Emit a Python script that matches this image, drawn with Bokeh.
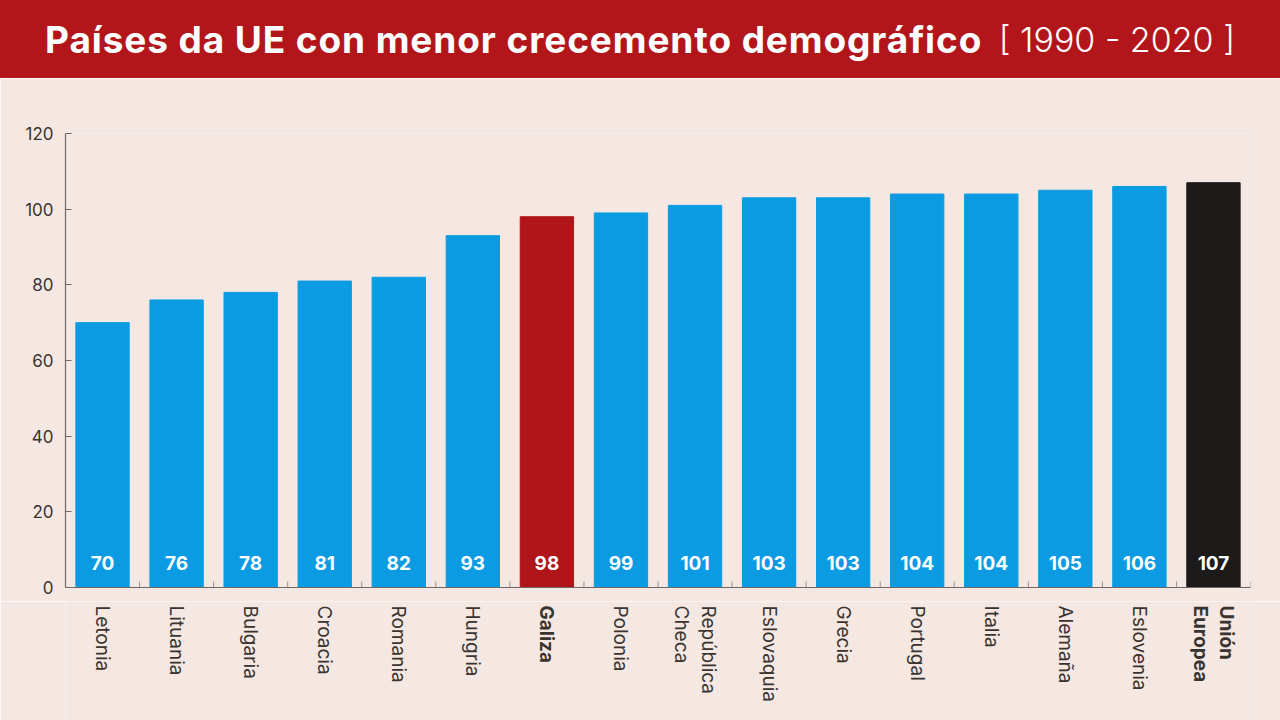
import math
from bokeh.plotting import figure
from bokeh.models import ColumnDataSource, LabelSet, Range1d, FixedTicker, FactorRange, Div
from bokeh.transform import dodge
from bokeh.layouts import column
from bokeh.embed import file_html
from bokeh.resources import INLINE
from bokeh.core.properties import value

# ---- data ----
countries = ["Letonia", "Lituania", "Bulgaria", "Croacia", "Romania", "Hungria", "Galiza",
             "Polonia", "República\nCheca", "Eslovaquia", "Grecia", "Portugal", "Italia",
             "Alemaña", "Eslovenia", "Unión\nEuropea"]
values = [70, 76, 78, 81, 82, 93, 98, 99, 101, 103, 103, 104, 104, 105, 106, 107]
bold_labels = ["Galiza", "Unión\nEuropea"]
y_ticks = [0, 20, 40, 60, 80, 100, 120]
title_main = "Países da UE con menor crecemento demográfico"
title_years = "[ 1990 - 2020 ]"

# ---- styles ----
BG = "#f5e8e2"
BANNER = "#b2161a"
BLUE = "#0a9be2"
RED = "#b0151a"
BLACK = "#1d1b1a"
TXT = "#3a3431"
AXIS = "#6f6763"
FONT = "Inter"

colors = []
for c in countries:
    if c == "Galiza":
        colors.append(RED)
    elif c.startswith("Unión"):
        colors.append(BLACK)
    else:
        colors.append(BLUE)

W = 1280
HEADER_H = 78
MAIN_H = 55 + 454 + 14
LABEL_H = 720 - HEADER_H - MAIN_H

# ---- header ----
header_html = (
    f'<div style="position:relative;width:{W}px;height:{HEADER_H}px;background:{BANNER};'
    f'color:white;font-family:{FONT};margin:0;">'
    f'<span style="position:absolute;left:45px;top:20px;font-size:37px;font-weight:700;'
    f'letter-spacing:0.9px;line-height:40px;white-space:nowrap;">{title_main}</span>'
    f'<span style="position:absolute;right:45px;top:20px;font-size:34px;font-weight:300;'
    f'line-height:40px;white-space:nowrap;">{title_years}</span></div>'
)
hdr = Div(text=header_html, width=W, height=HEADER_H, margin=0)

# ---- main chart ----
src = ColumnDataSource(dict(cat=countries, val=values, color=colors,
                            lbl=[str(v) for v in values], zero=[0] * len(values)))

p = figure(width=W, height=MAIN_H, x_range=FactorRange(factors=countries, range_padding=0),
           y_range=Range1d(0, 120), toolbar_location=None, output_backend="svg",
           background_fill_color=BG, border_fill_color=BG, outline_line_color=None,
           min_border_left=65, min_border_right=30, min_border_top=55, min_border_bottom=14,
           margin=0)
p.xgrid.visible = False
p.ygrid.visible = False

p.vbar(x="cat", top="val", width=0.72, color="color", source=src)

# y axis
ya = p.yaxis[0]
ya.ticker = FixedTicker(ticks=y_ticks)
ya.axis_line_color = AXIS
ya.axis_line_width = 1.2
ya.major_tick_in = 6
ya.major_tick_out = 0
ya.major_tick_line_color = AXIS
ya.minor_tick_line_color = None
ya.major_label_text_font = FONT
ya.major_label_text_font_size = "17px"
ya.major_label_text_color = TXT
ya.major_label_standoff = 12

# x axis: line only, labels drawn in the strip below
xa = p.xaxis[0]
xa.axis_line_color = AXIS
xa.axis_line_width = 1.2
xa.major_tick_line_color = None
xa.major_tick_in = 0
xa.major_tick_out = 0
xa.minor_tick_line_color = None
xa.major_label_text_font_size = "0px"
xa.major_label_standoff = 0
xa.major_label_text_alpha = 0

# small ticks at category boundaries
p.segment(x0=dodge("cat", 0.5, range=p.x_range), y0=0,
          x1=dodge("cat", 0.5, range=p.x_range), y1=1.6,
          source=src, line_color="#9a908b", line_width=1)

# value labels inside bars
p.add_layout(LabelSet(x="cat", y="zero", text="lbl", source=src, y_offset=25,
                      text_align="center", text_baseline="middle", text_color="white",
                      text_font=value(FONT), text_font_size="19px", text_font_style="bold"))

# ---- category label strip ----
lab = figure(width=W, height=LABEL_H, x_range=p.x_range, y_range=Range1d(0, LABEL_H),
             toolbar_location=None, output_backend="svg",
             background_fill_color=BG, border_fill_color=BG, outline_line_color=None,
             min_border_left=65, min_border_right=30, min_border_top=0, min_border_bottom=0,
             x_axis_location=None, y_axis_location=None, margin=0)
lab.xgrid.visible = False
lab.ygrid.visible = False
norm = [c for c in countries if c not in bold_labels]
bold = [c for c in countries if c in bold_labels]
for cats, style in ((norm, "normal"), (bold, "bold")):
    s = ColumnDataSource(dict(cat=cats))
    lab.text(x="cat", y=LABEL_H - 4, text="cat", source=s, angle=-math.pi / 2,
             text_align="left", text_baseline="middle", text_color=TXT,
             text_font=value(FONT), text_font_size="19px", text_font_style=style,
             text_line_height=1.15)

layout = column(hdr, p, lab, spacing=0)
open("out.html", "w").write(file_html(layout, INLINE))
